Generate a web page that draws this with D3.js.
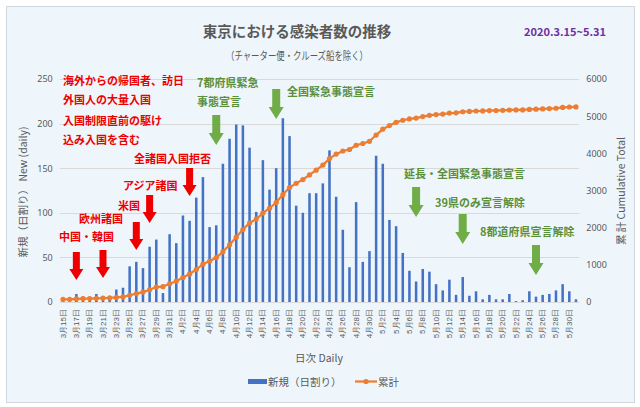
<!DOCTYPE html>
<html><head><meta charset="utf-8">
<script src="https://cdn.jsdelivr.net/npm/d3@7"></script>
<style>
html,body{margin:0;padding:0;background:#fff;}
svg{display:block;font-family:"Noto Sans CJK JP","Noto Sans",sans-serif;}
</style></head>
<body>
<script>
// ---------- DATA ----------
const dates = [
"3月15日","3月16日","3月17日","3月18日","3月19日","3月20日","3月21日","3月22日","3月23日","3月24日",
"3月25日","3月26日","3月27日","3月28日","3月29日","3月30日","3月31日",
"4月1日","4月2日","4月3日","4月4日","4月5日","4月6日","4月7日","4月8日","4月9日","4月10日",
"4月11日","4月12日","4月13日","4月14日","4月15日","4月16日","4月17日","4月18日","4月19日","4月20日",
"4月21日","4月22日","4月23日","4月24日","4月25日","4月26日","4月27日","4月28日","4月29日","4月30日",
"5月1日","5月2日","5月3日","5月4日","5月5日","5月6日","5月7日","5月8日","5月9日","5月10日",
"5月11日","5月12日","5月13日","5月14日","5月15日","5月16日","5月17日","5月18日","5月19日","5月20日",
"5月21日","5月22日","5月23日","5月24日","5月25日","5月26日","5月27日","5月28日","5月29日","5月30日","5月31日"];
const newCases = [
2,1,9,6,2,9,6,3,14,16,
40,45,38,62,70,10,76,
66,97,91,117,140,84,86,155,183,199,
198,173,101,159,126,150,206,186,108,100,
122,122,133,170,118,81,39,112,45,57,
164,155,92,85,55,35,23,37,34,20,
13,25,8,28,7,12,3,8,3,3,
9,1,2,12,6,8,9,13,20,12,3];
const cumulative = [
72,73,82,89,91,100,106,109,124,140,
181,227,267,330,402,413,491,
559,659,752,873,1017,1103,1192,1351,1539,1744,
1948,2126,2230,2393,2523,2677,2889,3081,3192,3295,
3420,3546,3683,3858,3979,4063,4103,4218,4264,4323,
4492,4651,4746,4833,4890,4926,4950,4988,5023,5043,
5057,5082,5090,5119,5127,5139,5142,5150,5153,5156,
5166,5167,5169,5181,5187,5195,5205,5213,5234,5246,5249];
const leftTicks = [0,50,100,150,200,250];
const rightTicks = [0,1000,2000,3000,4000,5000,6000];
const titleText = "東京における感染者数の推移";
const subtitleText = "（チャーター便・クルーズ船を除く）";
const periodText = "2020.3.15~5.31";
const seriesNames = ["新規（日割り）","累計"];
const leftAxisTitle = "新規（日割り） New (daily)";
const rightAxisTitle = "累 計  Cumulative Total";
const xAxisTitle = "日次  Daily";
const redNoteLines = ["海外からの帰国者、訪日","外国人の大量入国","入国制限直前の駆け","込み入国を含む"];
const redEvents = ["中国・韓国","欧州諸国","米国","アジア諸国","全諸国入国拒否"];
const redArrowDates = ["3月17日","3月21日","3月26日","3月28日","4月3日"];
const greenEvents = ["7都府県緊急","全国緊急事態宣言","延長・全国緊急事態宣言","39県のみ宣言解除","8都道府県宣言解除"];
const greenArrowDates = ["4月7日","4月16日","5月7日","5月14日","5月25日"];

// ---------- LAYOUT ----------
const W = 640, H = 407;
const plot = {left: 59.7, right: 579.3, top: 79, bottom: 302};
const C = {bar:"#4472c4", line:"#ed7d31", grid:"#d9d9d9", text:"#595959",
           red:"#ee0000", green:"#70ad47", greenText:"#5b8f3a", bg:"#eef6fc", border:"#d0d7de"};

const svg = d3.select("body").append("svg").attr("width", W).attr("height", H);
svg.append("rect").attr("x",6.5).attr("y",6.5).attr("width",628).attr("height",396)
  .attr("fill",C.bg).attr("stroke",C.border).attr("stroke-width",1);

const x = d3.scaleBand().domain(dates).range([plot.left, plot.right]).paddingInner(0.62).paddingOuter(0.31);
const xc = d => x(d) + x.bandwidth()/2;
const yL = d3.scaleLinear().domain([0,250]).range([plot.bottom, plot.top]);
const yR = d3.scaleLinear().domain([0,6000]).range([plot.bottom, plot.top]);

// grid
svg.append("g").selectAll("line").data(leftTicks).join("line")
  .attr("x1",plot.left).attr("x2",plot.right)
  .attr("y1",d=>Math.round(yL(d))+0.5).attr("y2",d=>Math.round(yL(d))+0.5)
  .attr("stroke",C.grid).attr("stroke-width",1);

// left axis
const axL = d3.axisLeft(yL).tickValues(leftTicks).tickSize(0).tickPadding(7).tickFormat(d3.format("d"));
const gL = svg.append("g").attr("transform",`translate(${plot.left},0)`).call(axL);
gL.select(".domain").remove();
gL.selectAll("text").attr("fill",C.text).style("font-size","9px").style("font-family","'Noto Sans','Noto Sans CJK JP',sans-serif");

// right axis
const axR = d3.axisRight(yR).tickValues(rightTicks).tickSize(0).tickPadding(7).tickFormat(d3.format("d"));
const gR = svg.append("g").attr("transform",`translate(${plot.right},0)`).call(axR);
gR.select(".domain").remove();
gR.selectAll("text").attr("fill",C.text).style("font-size","9px").style("font-family","'Noto Sans','Noto Sans CJK JP',sans-serif");

// x axis
const axX = d3.axisBottom(x).tickValues(dates.filter((d,i)=>i%2===0)).tickSize(0);
const gX = svg.append("g").attr("transform",`translate(0,${plot.bottom})`).call(axX);
gX.select(".domain").remove();
gX.selectAll("text").attr("fill",C.text).style("font-size","8px")
  .attr("text-anchor","end").attr("dominant-baseline","central")
  .attr("transform","translate(0,7) rotate(-90)").attr("x",0).attr("y",0).attr("dy",null);

// bars
svg.append("g").selectAll("rect").data(newCases).join("rect")
  .attr("x",(d,i)=>x(dates[i])).attr("width",x.bandwidth())
  .attr("y",d=>yL(d)).attr("height",d=>plot.bottom-yL(d)).attr("fill",C.bar);

// line
const line = d3.line().x((d,i)=>xc(dates[i])).y(d=>yR(d));
svg.append("path").datum(cumulative).attr("d",line).attr("fill","none")
  .attr("stroke",C.line).attr("stroke-width",2.25);
svg.append("g").selectAll("circle").data(cumulative).join("circle")
  .attr("cx",(d,i)=>xc(dates[i])).attr("cy",d=>yR(d)).attr("r",2.6).attr("fill",C.line);

// titles
svg.append("text").attr("x",297).attr("y",37).attr("text-anchor","middle")
  .attr("font-size",14.5).attr("font-weight","bold").attr("fill",C.text).text(titleText);
svg.append("text").attr("x",297).attr("y",60).attr("text-anchor","middle")
  .attr("font-size",11).attr("fill",C.text)
  .attr("textLength",142).attr("lengthAdjust","spacingAndGlyphs").text(subtitleText);
svg.append("text").attr("x",565).attr("y",36).attr("text-anchor","middle")
  .attr("font-size",11).attr("font-weight","bold").attr("fill","#7030a0").text(periodText);

// axis titles
svg.append("text").attr("transform","translate(22,192) rotate(-90)").attr("text-anchor","middle")
  .attr("dominant-baseline","central").attr("font-size",10.5).attr("fill",C.text).text(leftAxisTitle);
svg.append("text").attr("transform","translate(620,191) rotate(-90)").attr("text-anchor","middle")
  .attr("dominant-baseline","central").attr("font-size",10.5).attr("fill",C.text).text(rightAxisTitle);
svg.append("text").attr("x",319).attr("y",362).attr("text-anchor","middle")
  .attr("font-size",10.5).attr("fill",C.text).text(xAxisTitle);

// legend
const lg = svg.append("g");
lg.append("rect").attr("x",248).attr("y",379).attr("width",19).attr("height",5).attr("fill",C.bar);
lg.append("text").attr("x",268).attr("y",385.5).attr("font-size",10.5).attr("fill",C.text).text(seriesNames[0]);
lg.append("line").attr("x1",355).attr("x2",377).attr("y1",381.5).attr("y2",381.5).attr("stroke",C.line).attr("stroke-width",2.25);
lg.append("circle").attr("cx",366).attr("cy",381.5).attr("r",2.6).attr("fill",C.line);
lg.append("text").attr("x",378).attr("y",385.5).attr("font-size",10.5).attr("fill",C.text).text(seriesNames[1]);

// arrows
function arrow(cx, top, len, shaftW, headW, headL, color){
  const p = d3.path();
  p.moveTo(cx-shaftW/2, top); p.lineTo(cx+shaftW/2, top);
  p.lineTo(cx+shaftW/2, top+len-headL); p.lineTo(cx+headW/2, top+len-headL);
  p.lineTo(cx, top+len); p.lineTo(cx-headW/2, top+len-headL);
  p.lineTo(cx-shaftW/2, top+len-headL); p.closePath();
  svg.append("path").attr("d",p.toString()).attr("fill",color);
}
const redArrowTops = [252,250,222,195,168];
redArrowDates.forEach((d,i)=>arrow(xc(d), redArrowTops[i], 28, 7, 14, 11, C.red));
const greenArrowTops = [115,89,187,214,245];
greenArrowDates.forEach((d,i)=>arrow(xc(d), greenArrowTops[i], 30, 8, 15, 12, C.green));

// red texts
const redNoteY = [85,104,125,144];
redNoteLines.forEach((t,i)=>svg.append("text").attr("x",63).attr("y",redNoteY[i])
  .attr("font-size",11).attr("font-weight","bold").attr("fill",C.red).text(t));
const redEvPos = [[59,241],[79,223],[118,210],[123,190],[134,163]];
redEvents.forEach((t,i)=>svg.append("text").attr("x",redEvPos[i][0]).attr("y",redEvPos[i][1])
  .attr("font-size",11).attr("font-weight","bold").attr("fill",C.red).text(t));

// green texts
const greenTexts = [["7都府県緊急",197,87],["事態宣言",197,106],[greenEvents[1],287,96],[greenEvents[2],404,178],[greenEvents[3],435,207],[greenEvents[4],480,236]];
greenTexts.forEach(g=>svg.append("text").attr("x",g[1]).attr("y",g[2])
  .attr("font-size",11).attr("font-weight","bold").attr("fill",C.greenText).text(g[0]));
</script>
</body></html>
